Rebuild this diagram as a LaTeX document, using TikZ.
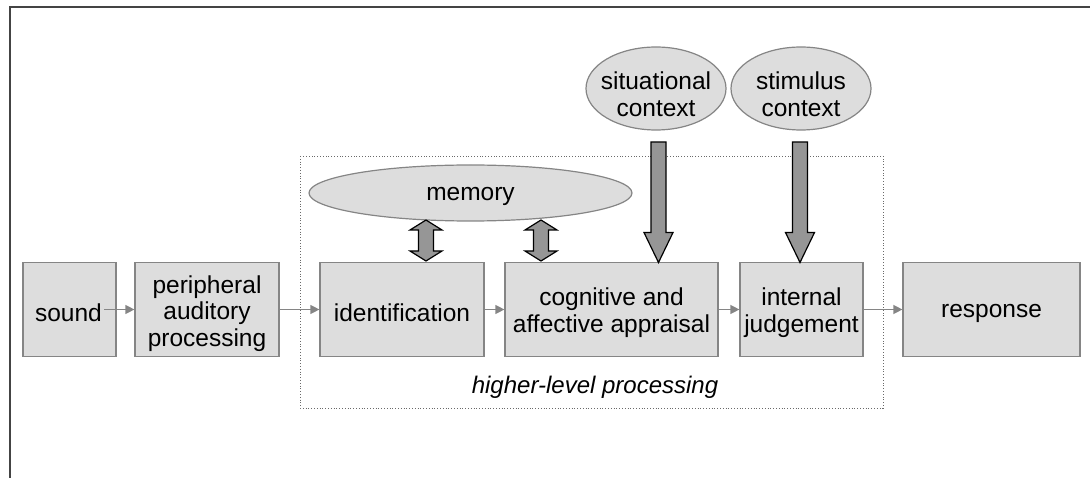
\documentclass[tikz,border=0pt]{standalone}
\usepackage{fontspec}
\setmainfont{Liberation Sans}
\usetikzlibrary{shapes.geometric,arrows.meta,calc}
\definecolor{boxfill}{HTML}{DDDDDD}
\definecolor{boxline}{HTML}{858585}
\definecolor{arrfill}{HTML}{969696}
\definecolor{framecol}{HTML}{444444}
\tikzset{
  stagebox/.style={draw=boxline, line width=1.2pt, fill=boxfill, inner sep=0pt},
  oval/.style={ellipse, draw=boxline, line width=1.2pt, fill=boxfill, inner sep=0pt},
  boxtext/.style={inner sep=0pt, align=center, font=\fontsize{24.5}{26.7}\selectfont},
  flow/.style={draw=boxline, line width=1.3pt, -{Triangle[length=9pt,width=9pt]}},
  fatarrow/.style={draw=black, line width=1.2pt, fill=arrfill, line join=miter},
}
% vertical double-headed arrow: centre x, top y, bottom y
\newcommand{\twoway}[3]{%
  \filldraw[fatarrow] (#1,#2) -- (#1+16,#2+10) -- (#1+7.5,#2+10) -- (#1+7.5,#3-10)
    -- (#1+16,#3-10) -- (#1,#3) -- (#1-16,#3-10) -- (#1-7.5,#3-10)
    -- (#1-7.5,#2+10) -- (#1-16,#2+10) -- cycle;}
% downward block arrow: centre x, top y, tip y
\newcommand{\downblock}[3]{%
  \filldraw[fatarrow] (#1-7.5,#2) -- (#1+7.5,#2) -- (#1+7.5,#3-30) -- (#1+14.5,#3-30)
    -- (#1,#3) -- (#1-14.5,#3-30) -- (#1-7.5,#3-30) -- cycle;}
\begin{document}
\begin{tikzpicture}[x=1pt,y=-1pt]
\useasboundingbox (0,0) rectangle (1090,478);
% frame edges
\draw[framecol, line width=2pt] (10,478) -- (10,7) -- (1090,7);

% dotted region
\draw[boxline!80!black, line width=0.8pt, dotted] (300,156) rectangle (883,408);
\node[boxtext, font=\fontsize{24}{26}\itshape] (hl) at (595,387) {higher-level processing};

% processing stages
\node[stagebox, minimum width=93pt, minimum height=94pt] (sound) at (69.5,309.5) {};
\node[boxtext, anchor=east] (soundtxt) at (102,312.5) {sound};
\node[stagebox, minimum width=144pt, minimum height=94pt] (periph) at (207,309.5) {};
\node[boxtext] at ([yshift=-4pt]periph) {peripheral\\auditory\\processing};
\node[stagebox, minimum width=164pt, minimum height=94pt] (ident) at (402,309.5) {};
\node[boxtext] at ([yshift=-3pt]ident) {identification};
\node[stagebox, minimum width=213pt, minimum height=94pt] (cog) at (611.5,309.5) {};
\node[boxtext] at ([yshift=-3.5pt]cog) {cognitive and\\affective appraisal};
\node[stagebox, minimum width=123pt, minimum height=94pt] (judge) at (801.5,309.5) {};
\node[boxtext] at ([yshift=-3.5pt]judge) {internal\\judgement};
\node[stagebox, minimum width=177pt, minimum height=94pt] (resp) at (991.5,309.5) {};
\node[boxtext] at ([yshift=-4pt]resp) {response};

% context and memory
\node[oval, minimum width=323pt, minimum height=56pt] (mem) at (470.5,193) {};
\node[boxtext] at ([yshift=-3pt]mem) {memory};
\node[oval, minimum width=140pt, minimum height=83pt] (sit) at (656,88.5) {};
\node[boxtext] at ([yshift=-6pt]sit) {situational\\context};
\node[oval, minimum width=140pt, minimum height=83pt] (stim) at (801,88.5) {};
\node[boxtext] at ([yshift=-6pt]stim) {stimulus\\context};

% flow between stages
\draw[flow] ([xshift=2pt]soundtxt.east |- periph.west) -- (periph.west);
\draw[flow] (periph.east) -- (ident.west);
\draw[flow] (ident.east) -- (cog.west);
\draw[flow] (cog.east) -- (judge.west);
\draw[flow] (judge.east) -- (resp.west);

% memory exchange
\twoway{426}{220}{261}
\twoway{541}{220}{261}

% context influence
\downblock{658.5}{142}{262.5}
\downblock{800}{142}{262.5}
\end{tikzpicture}
\end{document}
